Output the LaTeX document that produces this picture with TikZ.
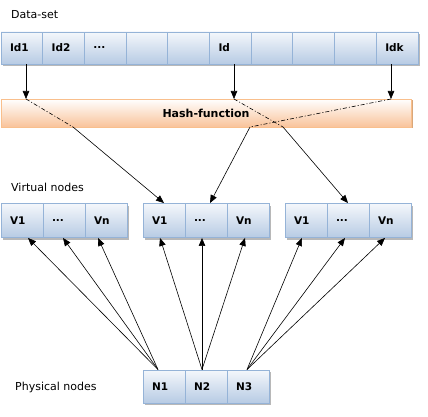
\documentclass[tikz,border=0pt]{standalone}
\usepackage{fontspec}
\setmainfont{DejaVu Sans}
\usetikzlibrary{arrows.meta,shadows}

\definecolor{celltop}{HTML}{F4F7FB}
\definecolor{cellbot}{HTML}{B7CBE4}
\definecolor{cellline}{HTML}{95B3D7}
\definecolor{hashbot}{HTML}{F9C39A}
\definecolor{hashline}{HTML}{F9BF8C}
\definecolor{hashshade}{HTML}{D9A77A}

\tikzset{
 cell/.style={draw=cellline, line width=0.9pt, top color=celltop, bottom color=cellbot,
  text width=24pt, inner xsep=9pt, inner ysep=0pt, align=left, minimum height=32pt,
  font=\bfseries\fontsize{10.5}{12}\selectfont,
  drop shadow={shadow xshift=2pt, shadow yshift=-2pt, fill=black!28, opacity=1}},
 hashbox/.style={draw=hashline, line width=0.9pt, top color=white, bottom color=hashbot,
  minimum width=410pt, minimum height=28pt, inner sep=0pt,
  font=\bfseries\fontsize{11}{12}\selectfont,
  drop shadow={shadow xshift=1.5pt, shadow yshift=-1.5pt, fill=hashshade, opacity=1}},
 lbl/.style={anchor=west, inner sep=0pt, font=\fontsize{11}{13}\selectfont},
 arr/.style={-{Triangle[length=8pt,width=6.5pt]}, line width=0.6pt},
 hashdash/.style={line width=0.6pt, dash pattern=on 4pt off 2pt on 1pt off 2pt}
}

\def\dts{...}

\begin{document}
\begin{tikzpicture}[x=1pt,y=-1pt]
\useasboundingbox (0,0) rectangle (428,417);

% labels
\node[lbl] (dataset) at (11,15) {Data-set};
\node[lbl] (virtual) at (11,187) {Virtual nodes};
\node[lbl] (physical) at (15,387) {Physical nodes};

% data-set row
\foreach \t [count=\i] in {Id1,Id2,\dts,{},{},Id,{},{},{},Idk}
 \node[cell, text width=23.7pt] (d\i) at ({1+41.7*(\i-1)+20.85},48) {\t};

% hash function
\node[hashbox] (hash) at (206,113) {Hash-function};

% virtual nodes
\foreach \g/\gx in {1/1,2/143,3/285}
 \foreach \t [count=\i] in {V1,\dts,Vn}
  \node[cell, minimum height=34pt] (v\g\i) at ({\gx+42*(\i-1)+21},220.5) {\t};

% physical nodes
\foreach \t [count=\i] in {N1,N2,N3}
 \node[cell, minimum height=33pt] (n\i) at ({143+42*(\i-1)+21},386.5) {\t};

% hashing
\coordinate (h1) at (26,99);
\coordinate (h6) at (234,99);
\coordinate (h10) at (391,99);
\coordinate (b1) at (73,127);
\coordinate (b6) at (283,127);
\coordinate (b10) at (250,127);

\foreach \i in {1,6,10} \draw[arr] (d\i.south -| h\i) -- (h\i);
\draw[hashdash] (h1) -- (b1);
\draw[hashdash] (h6) -- (b6);
\draw[hashdash] (h10) -- (b10);
\draw[arr] (b1) -- (v21.north);
\draw[arr] (b6) -- (v32.north);
\draw[arr] (b10) -- ([xshift=4]v22.north);

% physical -> virtual
\foreach \t/\dx in {v11/6,v12/-1,v13/-8}
 \draw[arr] ([xshift=-6]n1.north) -- ([xshift=\dx]\t.south);
\foreach \t/\dx in {v21/-4,v22/-4,v23/-3}
 \draw[arr] ([xshift=-4]n2.north) -- ([xshift=\dx]\t.south);
\foreach \t/\dx in {v31/-4,v32/-3,v33/-5}
 \draw[arr] ([xshift=-1]n3.north) -- ([xshift=\dx]\t.south);

\end{tikzpicture}
\end{document}
